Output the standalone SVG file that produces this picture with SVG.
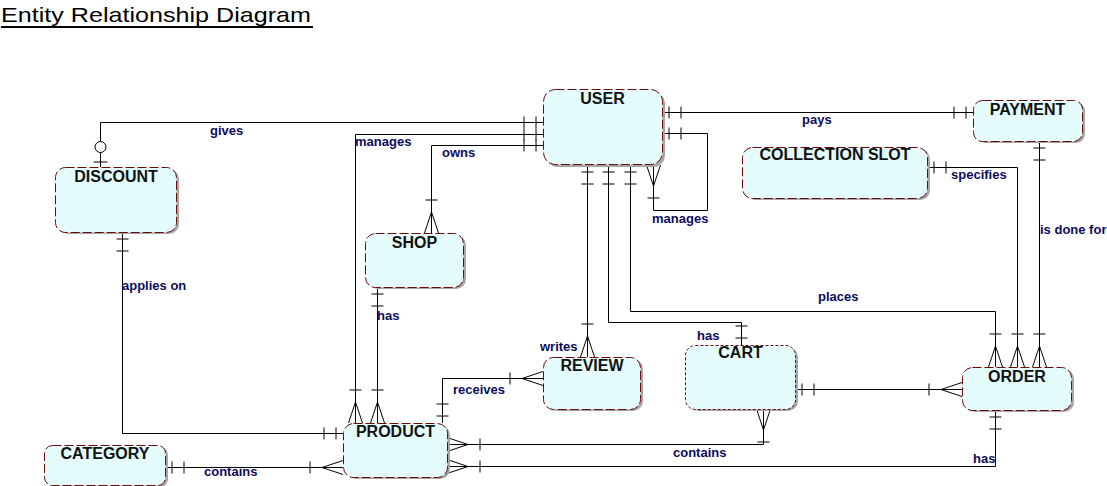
<svg xmlns="http://www.w3.org/2000/svg" width="1107" height="486" viewBox="0 0 1107 486">
<style>
.ent{fill:#e4fcfc;stroke:#6a0a0a;stroke-width:1;stroke-dasharray:9,3}
.dot{stroke-dasharray:3,2}
.sh{fill:#a6a6a6}
.et{font-family:"Liberation Sans",Arial,sans-serif;font-weight:bold;font-size:16px;fill:#111;text-anchor:middle}
.rl{font-family:"Liberation Sans",Arial,sans-serif;font-weight:bold;font-size:13px;fill:#0c0c5c}
.cn{fill:none;stroke:#000;stroke-width:1}
.mk{fill:none;stroke:#000;stroke-width:1}
</style>
<defs>
<marker id="oneE" markerUnits="userSpaceOnUse" viewBox="-40 -10 45 20" refX="0" refY="0" markerWidth="45" markerHeight="20" orient="auto" overflow="visible">
<path class="mk" d="M-7,-6V6M-19,-6V6"/>
</marker>
<marker id="oneS" markerUnits="userSpaceOnUse" viewBox="-5 -10 45 20" refX="0" refY="0" markerWidth="45" markerHeight="20" orient="auto" overflow="visible">
<path class="mk" d="M7,-6V6M19,-6V6"/>
</marker>
<marker id="manyE" markerUnits="userSpaceOnUse" viewBox="-40 -10 45 20" refX="0" refY="0" markerWidth="45" markerHeight="20" orient="auto" overflow="visible">
<path class="mk" d="M-21,0L0,-7M-21,0L0,7M-33,-6V6"/>
</marker>
<marker id="manyS" markerUnits="userSpaceOnUse" viewBox="-5 -10 45 20" refX="0" refY="0" markerWidth="45" markerHeight="20" orient="auto" overflow="visible">
<path class="mk" d="M21,0L0,-7M21,0L0,7M33,-6V6"/>
</marker>
<marker id="zeroOneE" markerUnits="userSpaceOnUse" viewBox="-40 -10 45 20" refX="0" refY="0" markerWidth="45" markerHeight="20" orient="auto" overflow="visible">
<path class="mk" d="M-5,-7V7"/>
<circle cx="-20" cy="0" r="5.5" fill="#fff" stroke="#000" stroke-width="1"/>
</marker>
</defs>
<rect width="1107" height="486" fill="#fff"/>
<text x="1" y="22" font-family="'Liberation Sans',Arial,sans-serif" font-size="21" fill="#000" textLength="310" lengthAdjust="spacingAndGlyphs">Entity Relationship Diagram</text>
<line x1="1" y1="27" x2="313" y2="27" stroke="#000" stroke-width="2"/>

<g id="connectors">
<path class="cn" d="M662,112.5H973" marker-start="url(#oneS)" marker-end="url(#oneE)"/>
<path class="cn" d="M662,133.5H707.5V210.5H653.5V165" marker-start="url(#oneS)" marker-end="url(#manyE)"/>
<path class="cn" d="M587.5,165V357" marker-start="url(#oneS)" marker-end="url(#manyE)"/>
<path class="cn" d="M608.5,165V322.5H741.5V345" marker-start="url(#oneS)" marker-end="url(#oneE)"/>
<path class="cn" d="M630.5,165V311.5H995.5V367" marker-start="url(#oneS)" marker-end="url(#manyE)"/>
<path class="cn" d="M927,167.5H1017.5V367" marker-start="url(#oneS)" marker-end="url(#manyE)"/>
<path class="cn" d="M1039.5,141V367" marker-start="url(#oneS)" marker-end="url(#manyE)"/>
<path class="cn" d="M543,122.5H100.5V167" marker-start="url(#oneS)" marker-end="url(#zeroOneE)"/>
<path class="cn" d="M543,134.5H355.5V423" marker-start="url(#oneS)" marker-end="url(#manyE)"/>
<path class="cn" d="M543,145.5H431.5V233" marker-start="url(#oneS)" marker-end="url(#manyE)"/>
<path class="cn" d="M377.5,287V423" marker-start="url(#oneS)" marker-end="url(#manyE)"/>
<path class="cn" d="M122.5,232V433.5H343" marker-start="url(#oneS)" marker-end="url(#oneE)"/>
<path class="cn" d="M165,467.5H343" marker-start="url(#oneS)" marker-end="url(#manyE)"/>
<path class="cn" d="M442.5,423V378.5H543" marker-start="url(#oneS)" marker-end="url(#manyE)"/>
<path class="cn" d="M763.5,409V444.5H447" marker-start="url(#manyS)" marker-end="url(#manyE)"/>
<path class="cn" d="M995.5,410V466.5H447" marker-start="url(#oneS)" marker-end="url(#manyE)"/>
<path class="cn" d="M795,389.5H962" marker-start="url(#oneS)" marker-end="url(#manyE)"/>
<text class="rl" x="210" y="135">gives</text>
<text class="rl" x="355" y="146">manages</text>
<text class="rl" x="442" y="157">owns</text>
<text class="rl" x="802" y="124">pays</text>
<text class="rl" x="652" y="223">manages</text>
<text class="rl" x="951" y="179">specifies</text>
<text class="rl" x="1040" y="234">is done for</text>
<text class="rl" x="818" y="301">places</text>
<text class="rl" x="697" y="340">has</text>
<text class="rl" x="540" y="351">writes</text>
<text class="rl" x="122" y="290">applies on</text>
<text class="rl" x="377" y="320">has</text>
<text class="rl" x="453" y="394">receives</text>
<text class="rl" x="673" y="457">contains</text>
<text class="rl" x="204" y="476">contains</text>
<text class="rl" x="973" y="463">has</text>
</g>

<g id="USER">
<rect class="sh" x="546" y="92" width="119" height="75" rx="12"/>
<rect class="ent" x="543.5" y="89.5" width="119" height="75" rx="12"/>
<text class="et" x="602.5" y="104">USER</text>
</g>
<g id="PAYMENT">
<rect class="sh" x="976" y="102" width="109" height="41" rx="9"/>
<rect class="ent" x="973.5" y="100.5" width="109" height="41" rx="9"/>
<text class="et" x="1027.5" y="115">PAYMENT</text>
</g>
<g id="COLLECTION_SLOT">
<rect class="sh" x="745" y="149" width="185" height="51" rx="10"/>
<rect class="ent" x="742.5" y="147.5" width="185" height="51" rx="10"/>
<text class="et" x="835" y="160">COLLECTION SLOT</text>
</g>
<g id="DISCOUNT">
<rect class="sh" x="58" y="169" width="121" height="65" rx="10"/>
<rect class="ent" x="55.5" y="167.5" width="121" height="65" rx="10"/>
<text class="et" x="116" y="182">DISCOUNT</text>
</g>
<g id="SHOP">
<rect class="sh" x="368" y="235" width="98" height="54" rx="10"/>
<rect class="ent" x="365.5" y="233.5" width="98" height="54" rx="10"/>
<text class="et" x="414.5" y="248">SHOP</text>
</g>
<g id="REVIEW">
<rect class="sh" x="546" y="359" width="97" height="52" rx="10"/>
<rect class="ent" x="543.5" y="357.5" width="97" height="52" rx="10"/>
<text class="et" x="592" y="371">REVIEW</text>
</g>
<g id="CART">
<rect class="sh" x="688" y="347" width="110" height="64" rx="10"/>
<rect class="ent dot" x="685.5" y="345.5" width="110" height="64" rx="10"/>
<text class="et" x="740.5" y="358">CART</text>
</g>
<g id="ORDER">
<rect class="sh" x="965" y="369" width="109" height="43" rx="10"/>
<rect class="ent" x="962.5" y="367.5" width="109" height="43" rx="10"/>
<text class="et" x="1017" y="382">ORDER</text>
</g>
<g id="PRODUCT">
<rect class="sh" x="346" y="425" width="104" height="54" rx="10"/>
<rect class="ent" x="343.5" y="423.5" width="104" height="54" rx="10"/>
<text class="et" x="395.5" y="437">PRODUCT</text>
</g>
<g id="CATEGORY">
<rect class="sh" x="47" y="447" width="121" height="40" rx="8"/>
<rect class="ent" x="44.5" y="445.5" width="121" height="40" rx="8"/>
<text class="et" x="105" y="459">CATEGORY</text>
</g>
</svg>
